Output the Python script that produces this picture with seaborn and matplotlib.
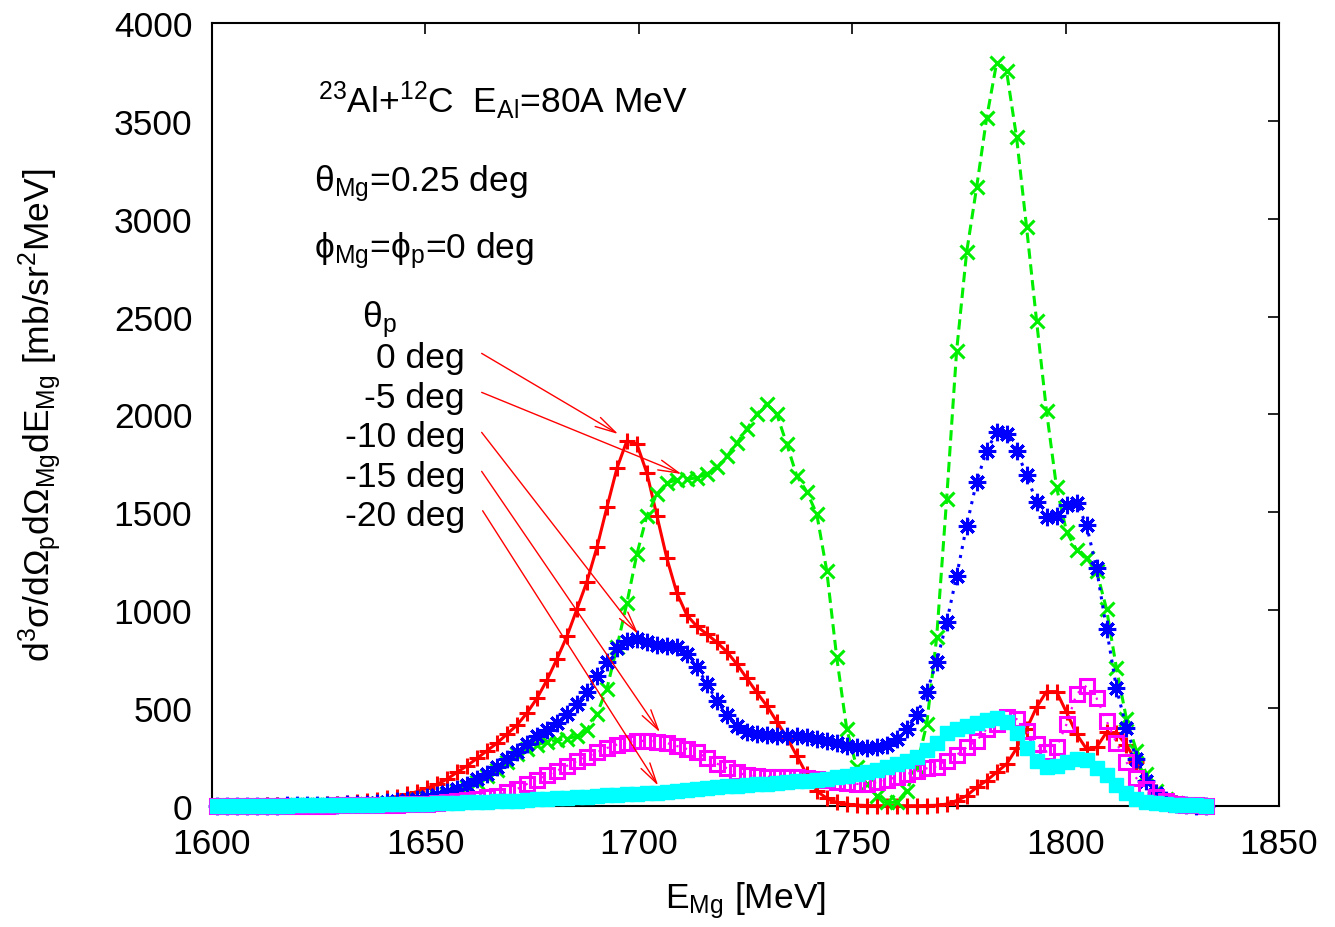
import numpy as np
import matplotlib
matplotlib.use("Agg")
import matplotlib.pyplot as plt
import seaborn as sns

# ---------------- data ----------------
# proton-energy grid mapped to E_Mg (MeV), 100 points
E_MG = np.linspace(1601.3, 1833.0, 100)

TH0 = [0, 0, 1, 1, 1, 2, 2, 3, 4, 5,
       6, 8, 11, 15, 19, 24, 30, 38, 47, 58,
       72, 89, 109, 136, 171, 204, 242, 281, 320, 366,
       412, 474, 549, 642, 750, 866, 1005, 1145, 1320, 1525,
       1724, 1865, 1848, 1700, 1482, 1264, 1087, 974, 917, 877,
       835, 787, 724, 651, 579, 511, 430, 350, 255, 160,
       75, 38, 17, 8, 3, 1, 0, 0, 0, 0,
       0, 1, 2, 8, 26, 51, 94, 128, 171, 213,
       293, 392, 503, 583, 583, 477, 366, 290, 298, 375,
       370, 310, 222, 128, 68, 30, 12, 5, 2, 0]

TH5 = [0, 0, 0, 0, 1, 1, 1, 1, 2, 2,
       3, 3, 4, 5, 6, 8, 10, 12, 15, 19,
       30, 37, 47, 58, 75, 95, 120, 150, 185, 225,
       262, 290, 312, 325, 335, 343, 355, 388, 469, 598,
       810, 1036, 1286, 1482, 1593, 1650, 1665, 1668, 1676, 1695,
       1729, 1785, 1853, 1925, 2001, 2053, 2001, 1848, 1686, 1605,
       1491, 1201, 758, 392, 196, 110, 51, 17, 17, 77,
       200, 415, 860, 1567, 2325, 2828, 3160, 3514, 3795, 3753,
       3415, 2956, 2478, 2015, 1627, 1400, 1308, 1264, 1201, 1005,
       702, 443, 281, 162, 77, 35, 15, 6, 2, 0]

TH10 = [0, 0, 0, 0, 1, 1, 1, 2, 2, 3,
        3, 4, 5, 7, 9, 11, 14, 18, 23, 29,
        36, 44, 55, 68, 85, 106, 136, 162, 196, 239,
        276, 315, 355, 388, 423, 469, 520, 583, 664, 736,
        806, 840, 850, 835, 821, 818, 809, 775, 710, 622,
        537, 463, 406, 375, 366, 361, 358, 355, 355, 350,
        341, 332, 320, 307, 298, 293, 298, 310, 341, 392,
        463, 579, 735, 937, 1175, 1431, 1656, 1814, 1908, 1899,
        1814, 1690, 1550, 1474, 1479, 1537, 1547, 1434, 1213, 903,
        600, 395, 239, 128, 65, 28, 11, 4, 1, 0]

TH15 = [0, 0, 0, 0, 0, 0, 1, 1, 1, 1,
        1, 1, 2, 2, 2, 3, 3, 4, 5, 7,
        9, 11, 14, 18, 22, 28, 35, 43, 51, 68,
        85, 111, 133, 155, 179, 204, 228, 250, 273, 295,
        312, 322, 330, 332, 328, 320, 305, 290, 273, 245,
        215, 192, 171, 155, 150, 148, 147, 146, 145, 142,
        138, 130, 122, 115, 111, 112, 120, 130, 148, 162,
        175, 191, 200, 230, 259, 298, 332, 392, 417, 452,
        443, 383, 315, 276, 298, 417, 571, 613, 550, 434,
        320, 222, 140, 85, 45, 22, 11, 5, 3, 1]

TH20 = [0, 0, 0, 1, 1, 1, 1, 1, 2, 2,
        2, 3, 3, 4, 4, 5, 6, 7, 8, 9,
        10, 11, 12, 14, 15, 17, 18, 20, 22, 24,
        26, 29, 32, 35, 38, 41, 44, 47, 50, 53,
        55, 58, 61, 64, 67, 70, 75, 80, 85, 90,
        95, 99, 103, 106, 109, 112, 116, 120, 124, 127,
        131, 137, 145, 153, 160, 170, 182, 196, 212, 230,
        250, 285, 320, 370, 390, 405, 425, 440, 450, 430,
        370, 295, 230, 200, 205, 222, 238, 235, 195, 155,
        106, 65, 35, 20, 12, 8, 5, 3, 2, 1]

LABELS = ["0 deg", "-5 deg", "-10 deg", "-15 deg", "-20 deg"]
X_TICKS = [1600, 1650, 1700, 1750, 1800, 1850]
Y_TICKS = [0, 500, 1000, 1500, 2000, 2500, 3000, 3500, 4000]

# ---------------- style ----------------
sns.set_style("white")
plt.rcParams["font.family"] = ["Liberation Sans", "DejaVu Sans"]
plt.rcParams["mathtext.fontset"] = "custom"
plt.rcParams["mathtext.rm"] = "Liberation Sans"
plt.rcParams["mathtext.it"] = "Liberation Sans:italic"
plt.rcParams["mathtext.bf"] = "Liberation Sans:bold"
for k in ["text.color", "axes.labelcolor", "xtick.color", "ytick.color"]:
    plt.rcParams[k] = "black"

FS = 25.5

fig = plt.figure(figsize=(13.35, 9.28), dpi=100)
ax = fig.add_axes([211.7 / 1335, 1 - 806.7 / 928, (1279 - 211.7) / 1335, (806.7 - 24) / 928])

series = [
    (TH0, dict(color="#ff0000", linestyle="-", lw=2.2, marker="+", markersize=11, markeredgewidth=2.2)),
    (TH5, dict(color="#00ee00", linestyle=(0, (3.4, 1.8)), lw=2.2, marker="x", markersize=10, markeredgewidth=2.2)),
    (TH10, dict(color="#0000ff", linestyle=(0, (1, 2)), lw=2.2, marker=(8, 2, 0), markersize=12.5, markeredgewidth=2.2)),
    (TH15, dict(color="#ff00ff", linestyle=(0, (1, 3)), lw=1.6, marker="s", markersize=10, markeredgewidth=2.2, markerfacecolor="none")),
    (TH20, dict(color="#00ffff", linestyle="-", lw=2.0, marker="s", markersize=10.5, markeredgewidth=1.0)),
]
for i, (vals, st) in enumerate(series):
    col = st["color"]
    sns.lineplot(x=E_MG, y=vals, ax=ax, legend=False, sort=True,
                 markeredgecolor=col, zorder=3 + i, clip_on=False, **st)

ax.set_xlim(1600, 1850)
ax.set_ylim(0, 4000)
ax.set_xticks(X_TICKS)
ax.set_yticks(Y_TICKS)
ax.tick_params(direction="in", length=8, width=1.2, top=True, right=True,
               labelsize=FS, colors="black")
ax.tick_params(axis="x", pad=15)
ax.tick_params(axis="y", pad=14)
for sp in ax.spines.values():
    sp.set_linewidth(1.5)
    sp.set_color("black")

ax.set_xlabel(r"E$_{\rm Mg}$ [MeV]", fontsize=FS)
ax.xaxis.set_label_coords(0.5, -0.13)
ax.xaxis.label.set_va("baseline")
ax.set_ylabel(r"d$^3$σ/dΩ$_{\rm p}$dΩ$_{\rm Mg}$dE$_{\rm Mg}$ [mb/sr$^2$MeV]", fontsize=FS)
ax.yaxis.set_label_coords(-0.161, 0.5)
ax.yaxis.label.set_va("center")


def px2data(px, py):
    return 1600 + (px - 211.7) / 4.27, (806.7 - py) / 0.1957


# annotations text
for txt, (px, py) in [
    (r"$^{23}$Al+$^{12}$C  E$_{\rm Al}$=80A MeV", (318, 113)),
    (r"θ$_{\rm Mg}$=0.25 deg", (314, 191)),
    (r"ϕ$_{\rm Mg}$=ϕ$_{\rm p}$=0 deg", (314, 258)),
    (r"θ$_{\rm p}$", (362, 327)),
]:
    x, y = px2data(px, py)
    ax.text(x, y, txt, fontsize=FS, ha="left", va="baseline")

label_base = [368, 407.5, 447, 486.5, 526]
for lab, py in zip(LABELS, label_base):
    x, y = px2data(465, py)
    ax.text(x, y, lab, fontsize=FS, ha="right", va="baseline")

starts = [(481.7, 354.3), (481.7, 393.3), (481.7, 433.3), (481.7, 472.3), (482.7, 511.7)]
tips = [(618.3, 435), (681.7, 475), (638.3, 635), (660, 733.3), (658.3, 786.7)]
for s, t in zip(starts, tips):
    ax.annotate("", xy=px2data(*t), xytext=px2data(*s),
                arrowprops=dict(arrowstyle="->,head_length=1.0,head_width=0.25",
                                color="#ff0000", lw=1.0, shrinkA=0, shrinkB=0,
                                mutation_scale=15), zorder=10)

fig.savefig("out.png", dpi=100, facecolor="white")
